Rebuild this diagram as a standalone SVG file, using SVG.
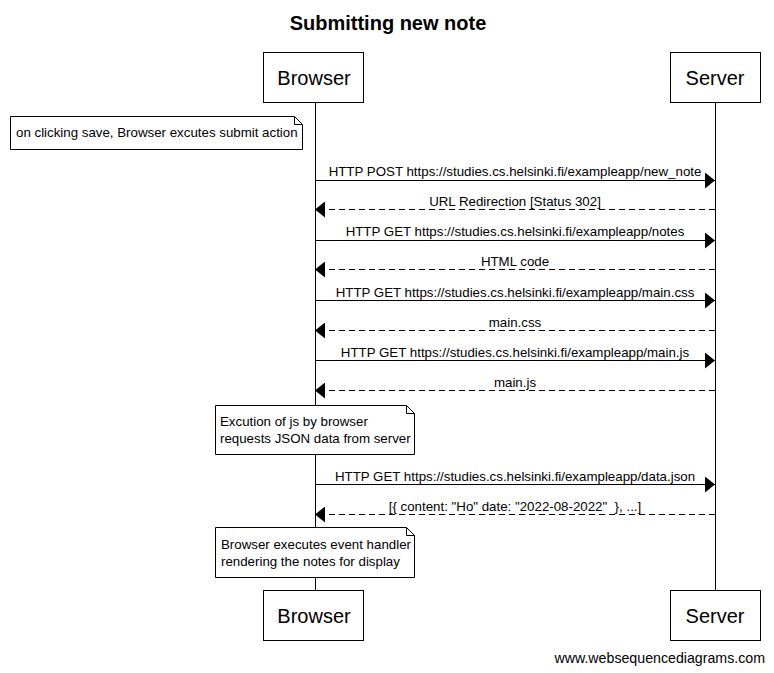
<svg xmlns="http://www.w3.org/2000/svg" width="774" height="673" viewBox="0 0 774 673">
<defs>
<marker id="ah" markerWidth="10" markerHeight="16" refX="10" refY="8" orient="auto" markerUnits="userSpaceOnUse">
<path d="M0,0 L10,8 L0,16 Z" fill="#000"/>
</marker>
<style>
text{font-family:"Liberation Sans",Arial,sans-serif;fill:#000}
.box{fill:#fff;stroke:#000;stroke-width:1}
.pt{font-size:20px;text-anchor:middle}
.lbl{font-size:13.3px;text-anchor:middle}
.nt{font-size:13.3px}
.life{stroke:#000;stroke-width:1}
.msg{stroke:#000;stroke-width:1;fill:none;marker-end:url(#ah)}
.dash{stroke-dasharray:6,4}
.note{fill:#fff;stroke:#000;stroke-width:1}
</style>
</defs>
<rect width="774" height="673" fill="#fff"/>
<text x="388" y="30" font-weight="bold" text-anchor="middle" style="font-size:20px">Submitting new note</text>
<g id="lifelines">
<line class="life" x1="315.5" y1="102" x2="315.5" y2="591"/>
<line class="life" x1="715.5" y1="102" x2="715.5" y2="591"/>
</g>
<g id="browser-top"><rect class="box" x="263.5" y="52.5" width="100" height="50"/><text class="pt" x="314" y="85">Browser</text></g>
<g id="server-top"><rect class="box" x="670.5" y="52.5" width="90" height="50"/><text class="pt" x="715" y="85">Server</text></g>
<g id="browser-bottom"><rect class="box" x="263.5" y="590.5" width="100" height="50"/><text class="pt" x="314" y="623">Browser</text></g>
<g id="server-bottom"><rect class="box" x="670.5" y="590.5" width="90" height="50"/><text class="pt" x="715" y="623">Server</text></g>
<g id="note1"><path class="note" d="M10.5,116.5 H294.5 L302.5,124.5 V149.5 H10.5 Z M294.5,116.5 V124.5 H302.5"/><text class="nt" x="16" y="137">on clicking save, Browser excutes submit action</text></g>
<g id="note2"><path class="note" d="M215.5,405.5 H406.5 L414.5,413.5 V454.5 H215.5 Z M406.5,405.5 V413.5 H414.5"/><text class="nt" x="220" y="426">Excution of js by browser</text><text class="nt" x="220" y="443">requests JSON data from server</text></g>
<g id="note3"><path class="note" d="M215.5,527.5 H406.5 L414.5,535.5 V577.5 H215.5 Z M406.5,527.5 V535.5 H414.5"/><text class="nt" x="221" y="549">Browser executes event handler</text><text class="nt" x="221" y="566">rendering the notes for display</text></g>
<g id="connectors">
<line class="msg" x1="315" y1="180.5" x2="715" y2="180.5"/>
<text class="lbl" x="515" y="176">HTTP POST https://studies.cs.helsinki.fi/exampleapp/new_note</text>
<line class="msg dash" x1="715" y1="209.5" x2="315" y2="209.5"/>
<text class="lbl" x="515" y="206">URL Redirection [Status 302]</text>
<line class="msg" x1="315" y1="240.5" x2="715" y2="240.5"/>
<text class="lbl" x="515" y="236">HTTP GET https://studies.cs.helsinki.fi/exampleapp/notes</text>
<line class="msg dash" x1="715" y1="269.5" x2="315" y2="269.5"/>
<text class="lbl" x="515" y="266">HTML code</text>
<line class="msg" x1="315" y1="300.5" x2="715" y2="300.5"/>
<text class="lbl" x="515" y="297">HTTP GET https://studies.cs.helsinki.fi/exampleapp/main.css</text>
<line class="msg dash" x1="715" y1="330.5" x2="315" y2="330.5"/>
<text class="lbl" x="515" y="327">main.css</text>
<line class="msg" x1="315" y1="360.5" x2="715" y2="360.5"/>
<text class="lbl" x="515" y="357">HTTP GET https://studies.cs.helsinki.fi/exampleapp/main.js</text>
<line class="msg dash" x1="715" y1="390.5" x2="315" y2="390.5"/>
<text class="lbl" x="515" y="387">main.js</text>
<line class="msg" x1="315" y1="484.5" x2="715" y2="484.5"/>
<text class="lbl" x="515" y="481">HTTP GET https://studies.cs.helsinki.fi/exampleapp/data.json</text>
<line class="msg dash" x1="715" y1="514.5" x2="315" y2="514.5"/>
<text class="lbl" x="515" y="511" style="white-space:pre" xml:space="preserve">[{ content: "Ho" date: "2022-08-2022"  }, ...]</text>
</g>
<text x="765" y="663" text-anchor="end" style="font-size:14.2px">www.websequencediagrams.com</text>
</svg>
